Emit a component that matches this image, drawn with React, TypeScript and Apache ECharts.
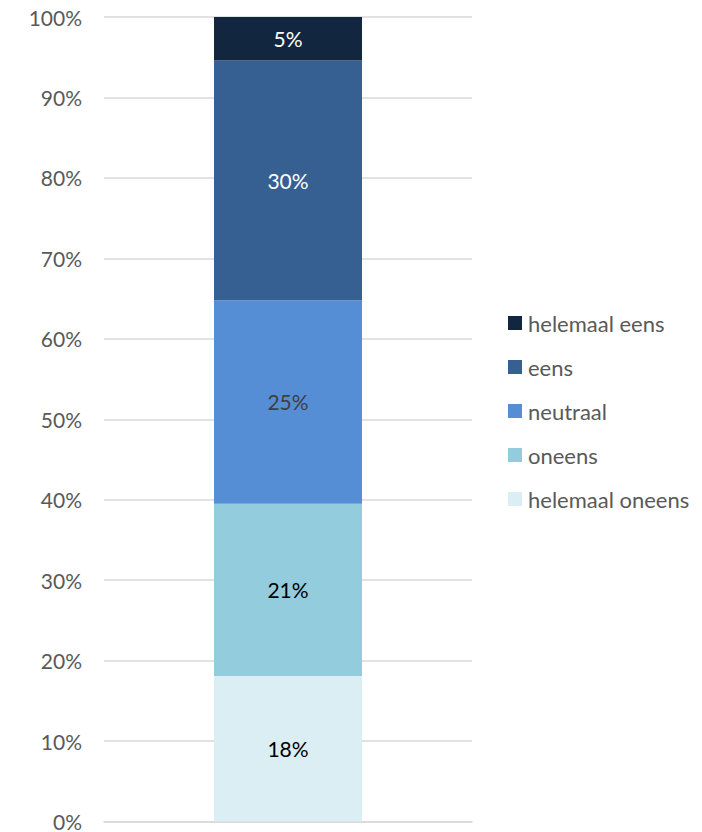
import React, { useEffect, useRef } from "react";
import * as echarts from "echarts";

const categories = [""];
const seriesNames = ["helemaal oneens", "oneens", "neutraal", "eens", "helemaal eens"];
const helemaalOneens = [18.1];
const oneens = [21.4];
const neutraal = [25.3];
const eens = [29.8];
const helemaalEens = [5.4];
const seriesValues = [helemaalOneens, oneens, neutraal, eens, helemaalEens];
const colors = ["#DBEEF4", "#93CDDD", "#558ED5", "#376092", "#132640"];
const labelColors = ["#000000", "#000000", "#404040", "#FFFFFF", "#FFFFFF"];

const FONT = "Lato, 'Open Sans', sans-serif";
const FS = 21;

export default function App() {
  const ref = useRef<HTMLDivElement>(null);
  useEffect(() => {
    document.body.style.margin = "0";
    const chart = echarts.init(ref.current!, null, { renderer: "svg" });
    chart.setOption({
      animation: false,
      textStyle: { fontFamily: FONT },
      grid: { left: 104, right: 230, top: 17, bottom: 8, containLabel: false },
      legend: {
        orient: "vertical",
        left: 503,
        top: 307,
        itemWidth: 14,
        itemHeight: 14,
        itemGap: 22,
        icon: "rect",
        data: [...seriesNames].reverse(),
        textStyle: { color: "#595959", fontSize: 22, fontFamily: FONT, padding: [0, 0, 0, 1] },
      },
      xAxis: {
        type: "category",
        data: categories,
        axisLine: { lineStyle: { color: "#D9D9D9", width: 1.5 } },
        axisTick: { show: false },
        axisLabel: { show: false },
      },
      yAxis: {
        type: "value",
        min: 0,
        max: 100,
        interval: 10,
        axisLine: { show: false },
        axisTick: { show: false },
        splitLine: { lineStyle: { color: "#D9D9D9", width: 1.5 } },
        axisLabel: {
          formatter: (v: number) => v + "%",
          color: "#595959",
          fontSize: FS,
          fontFamily: FONT,
          margin: 22,
        },
      },
      series: seriesNames.map((name, i) => ({
        name,
        type: "bar",
        stack: "total",
        barWidth: 148,
        data: seriesValues[i],
        itemStyle: { color: colors[i] },
        label: {
          show: true,
          position: "inside",
          formatter: (p: any) => Math.round(p.value) + "%",
          color: labelColors[i],
          fontSize: FS,
          fontFamily: FONT,
        },
      })),
    });
    return () => chart.dispose();
  }, []);
  return (
    <div
      ref={ref}
      style={{ position: "absolute", left: 0, top: 0, width: 702, height: 832 }}
    />
  );
}
